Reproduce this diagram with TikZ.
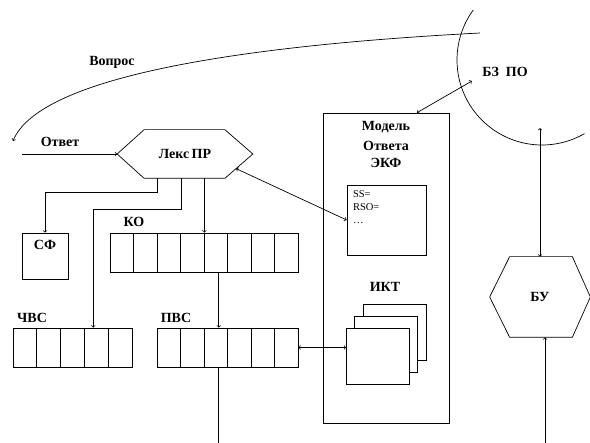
\documentclass[tikz,border=0pt]{standalone}
\usepackage{fontspec}
\setmainfont{Liberation Serif}
\usetikzlibrary{calc}

\begin{document}
\begin{tikzpicture}[x=1pt,y=-1pt,line width=0.7pt,
	lbl/.style={font=\fontsize{14}{16}\selectfont\bfseries, inner sep=0pt},
	cell/.style={draw, minimum width=#1, minimum height=39pt, inner sep=0pt},
	cell/.default=23.5pt,
	box/.style={draw, fill=white, inner sep=0pt}]

	\useasboundingbox (0,0) rectangle (590,443);

	% hexagons
	\node[minimum width=135pt, minimum height=48pt] (lex) at (185,154) {};
	\draw (lex.west) -- ([xshift=27pt]lex.north west) -- ([xshift=-28pt]lex.north east) -- (lex.east)
		-- ([xshift=-28pt]lex.south east) -- ([xshift=27pt]lex.south west) -- cycle;
	\node[lbl] at (lex) {Лекс\,ПР};

	\node[minimum width=100pt, minimum height=80pt] (bu) at (540,297) {};
	\draw (bu.west) -- ([xshift=20pt]bu.north west) -- ([xshift=-18pt]bu.north east) -- (bu.east)
		-- ([xshift=-18pt]bu.south east) -- ([xshift=20pt]bu.south west) -- cycle;
	\node[lbl] at (bu) {БУ};

	% knowledge base
	\draw (542,60) ++(216:85) arc (216:60:85);
	\node[lbl] (bz) at (505,72) {БЗ~~ПО};
	\coordinate (bzb) at (540,128);

	% model
	\node[box, minimum width=126pt, minimum height=310pt] (model) at (386,268) {};
	\node[lbl, align=center, anchor=north] (mtitle) at ([yshift=-8pt]model.north)
		{Модель\\[4pt]Ответа\\[1pt]ЭКФ};
	\node[box, minimum width=79pt, minimum height=70pt] (ss) at (386.5,220) {};
	\node[anchor=north west, align=left, inner sep=0pt, font=\fontsize{10.5}{13}\selectfont]
		(sstext) at ([shift={(6,6)}]ss.north west) {SS=\\RSO=\\\ldots};

	\node[lbl] (iktl) at (385,287) {ИКТ};
	\node[box, minimum width=63pt, minimum height=56pt] (ikta) at (395,332) {};
	\node[box, minimum width=63pt, minimum height=56pt] (iktb) at (386,344) {};
	\node[box, minimum width=63pt, minimum height=56pt] (iktc) at (378,356) {};

	% arrays
	\foreach \i in {0,...,7}
		\node[cell] (ko\i) at (121.75+23.5*\i,252.5) {};
	\foreach \i in {0,...,4}
		\node[cell=23.8pt] (chvs\i) at (24.9+23.8*\i,347.5) {};
	\foreach \i in {0,...,5}
		\node[cell] (pvs\i) at (168.75+23.5*\i,347.5) {};
	\node[box, minimum width=46pt, minimum height=46pt] (sf) at (45,256) {};

	\node[lbl] at (134,222) {КО};
	\node[lbl] at (32,318) {ЧВС};
	\node[lbl] at (176,318) {ПВС};
	\node[lbl] at (45,245) {СФ};

	% connectors
	\coordinate (q0) at (480,33);
	\coordinate (q1) at (13,141);
	\draw[->] (q0) .. controls (250,45) and (40,75) .. (q1);
	\node[lbl] at (112,62) {Вопрос};

	\coordinate (otv) at (22,154);
	\draw[->] (otv) -- (lex.west);
	\node[lbl] at (60,142) {Ответ};

	\draw[->] ([xshift=-28pt]lex.south) -- ++(0,14) -| (sf.north);
	\draw[->] ([xshift=-4pt]lex.south) -- ++(0,31) -| ([xshift=-3pt]chvs3.north);
	\draw[->] (ko3.north east |- lex.south) -- (ko3.north east);
	\draw[->] ([xshift=3pt]ko4.south) -- ([xshift=3pt]pvs2.north);
	\draw ([xshift=3pt]pvs2.south) -- ++(0,80);

	\coordinate (lexse) at ($(lex.east)!0.6!([xshift=-28pt]lex.south east)$);
	\draw[<->] (lexse) -- (ss.west);
	\draw[<->] ([xshift=31pt]model.north) -- ([shift={(-10,9)}]bz.west);
	\draw[<->] (pvs5.east) -- (pvs5.east -| iktc.west);
	\draw[<->] (bzb) -- (bzb |- bu.north);
	\coordinate (buin) at (545,443);
	\draw[->] (buin) -- (buin |- bu.south);

\end{tikzpicture}
\end{document}
